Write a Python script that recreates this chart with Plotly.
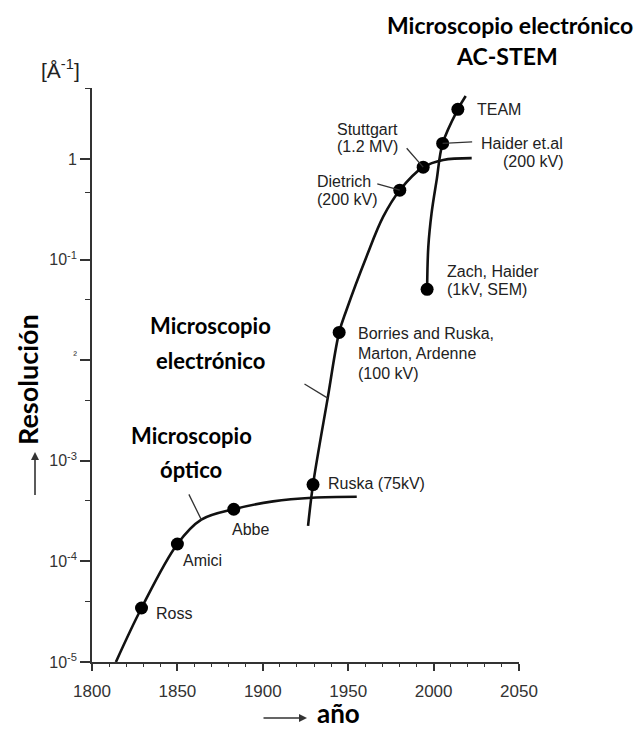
import numpy as np
import plotly.graph_objects as go

# ---------------- data ----------------
optical_year = [1814, 1829, 1850, 1864, 1883, 1906, 1929, 1955]
optical_res = [1.0e-5, 3.44e-5, 1.49e-4, 2.6e-4, 3.3e-4, 3.95e-4, 4.3e-4, 4.4e-4]

electron_year = [1926.5, 1929.4, 1938, 1944.7, 1949, 1960.7, 1970.5, 1980.2, 1993.9, 2005.6, 2022.3]
electron_res = [2.25e-4, 5.8e-4, 4.2e-3, 1.89e-2, 3.16e-2, 0.107, 0.267, 0.49, 0.83, 0.98, 1.02]

acstem_year = [1996.2, 1996.9, 1998.8, 2001.8, 2005.3, 2014.2, 2018.8]
acstem_res = [0.0507, 0.134, 0.288, 0.62, 1.43, 3.12, 4.23]

milestone_key = ["Ross", "Amici", "Abbe", "Ruska", "Borries", "Dietrich", "Stuttgart", "Haider", "TEAM", "Zach"]
milestone_year = [1829, 1850, 1883, 1929.4, 1944.7, 1980.2, 1993.9, 2005.3, 2014.2, 1996.2]
milestone_res = [3.44e-5, 1.49e-4, 3.3e-4, 5.8e-4, 1.89e-2, 0.49, 0.83, 1.43, 3.12, 0.0507]

milestone_text = {
    "Ross": ["Ross"],
    "Amici": ["Amici"],
    "Abbe": ["Abbe"],
    "Ruska": ["Ruska (75kV)"],
    "Borries": ["Borries and Ruska,", "Marton, Ardenne", "(100 kV)"],
    "Dietrich": ["Dietrich", "(200 kV)"],
    "Stuttgart": ["Stuttgart", "(1.2 MV)"],
    "Haider": ["Haider et.al", "(200 kV)"],
    "TEAM": ["TEAM"],
    "Zach": ["Zach, Haider", "(1kV, SEM)"],
}

x_ticks = [1800, 1850, 1900, 1950, 2000, 2050]
y_ticks = [1e-5, 1e-4, 1e-3, 1e-2, 1e-1, 1]
y_ticktext = ["10<sup>-5</sup>", "10<sup>-4</sup>", "10<sup>-3</sup>",
              "<sup>\u00b2</sup>", "10<sup>-1</sup>", "1"]
y_minor = [4e-5, 4e-4, 4e-3, 4e-2, 0.47, 5]

# ---------------- layout geometry (styles) ----------------
W, H = 637, 730
ML, MR, MT, MB = 92, 118, 88, 68
PW, PH = W - ML - MR, H - MT - MB
YR = [-5, 0.706]

def px(xp, yp):
    return (xp - ML) / PW, (H - MB - yp) / PH

label_style = {  # key: (anchor, dx, dy_first, spacing)
    "Ross": ("left", 12, 5, 0),
    "Amici": ("left", 4, 17, 0),
    "Abbe": ("left", -4, 20, 0),
    "Ruska": ("left", 13, -1.5, 0),
    "Borries": ("left", 17, 1, 20),
    "Dietrich": ("left", -85, -8.5, 18.3),
    "Stuttgart": ("left", -88, -37.5, 17),
    "Haider": ("right", 122, 0, 18.4),
    "TEAM": ("left", 17, 0, 0),
    "Zach": ("left", 18, -17.6, 18.3),
}

INK = "#111111"
TXT = "#222222"
fig = go.Figure()

for xs, ys in [(optical_year, optical_res), (electron_year, electron_res), (acstem_year, acstem_res)]:
    fig.add_trace(go.Scatter(x=xs, y=ys, mode="lines",
                             line=dict(color=INK, width=2.6, shape="spline", smoothing=1.0),
                             hoverinfo="skip", showlegend=False))

fig.add_trace(go.Scatter(x=milestone_year, y=milestone_res, mode="markers",
                         marker=dict(color="#000000", size=13), showlegend=False,
                         text=milestone_key))

ann = []
lab_font = dict(family="Liberation Sans, Arial, sans-serif", size=16, color=TXT)
for k, xv, yv in zip(milestone_key, milestone_year, milestone_res):
    anchor, dx, dy, sp = label_style[k]
    for i, line in enumerate(milestone_text[k]):
        ann.append(dict(x=xv, y=np.log10(yv), xref="x", yref="y", text=line,
                        showarrow=False, xanchor=anchor, yanchor="middle",
                        xshift=dx, yshift=-(dy + i * sp), font=lab_font))

# leader lines
def leader(xv, yv, ax, ay):
    return dict(x=xv, y=np.log10(yv), xref="x", yref="y", text=" ", showarrow=True,
                arrowhead=0, arrowwidth=1.3, arrowcolor="#333333", ax=ax, ay=ay,
                standoff=0, font=dict(size=1))

i_d = milestone_key.index("Dietrich")
i_s = milestone_key.index("Stuttgart")
i_h = milestone_key.index("Haider")
ann.append(leader(milestone_year[i_d], milestone_res[i_d], -24, -6.7))
ann.append(leader(milestone_year[i_s], milestone_res[i_s], -18, -20.6))
ann.append(leader(milestone_year[i_h], milestone_res[i_h], 31, -1.6))
ann.append(leader(optical_year[3], optical_res[3], -13.4, -27.3))
ann.append(leader(electron_year[2], electron_res[2], -24.7, -15))

bold = "Lato, 'Open Sans', sans-serif"
def txt(t, xp, yp, size, angle=0, yanchor="middle"):
    x, y = px(xp, yp)
    return dict(x=x, y=y, xref="paper", yref="paper", text="<b>" + t + "</b>", showarrow=False,
                xanchor="center", yanchor=yanchor, textangle=angle, borderpad=0,
                font=dict(family=bold, size=size, color="#000000"))

ann += [
    txt("Microscopio electrónico", 510, 25, 23),
    txt("AC-STEM", 507, 56, 23),
    txt("Microscopio", 210, 325, 22),
    txt("electrónico", 210, 360, 22),
    txt("Microscopio", 191, 435, 22),
    txt("óptico", 191, 469, 22),
    txt("Resolución", 27, 380, 27, -90),
    txt("año", 338, 730, 26, yanchor="bottom"),
]

# unit label
ux, uy = px(60, 69)
ann.append(dict(x=ux, y=uy, xref="paper", yref="paper", text="[Å<sup>-1</sup>]", showarrow=False,
                xanchor="center", yanchor="middle",
                font=dict(family="Liberation Sans, Arial", size=21, color="#222222")))

# axis arrows
def arrow(hx, hy, ax, ay):
    x, y = px(hx, hy)
    return dict(x=x, y=y, xref="paper", yref="paper", text=" ", showarrow=True, arrowhead=2,
                arrowsize=1, arrowwidth=1.6, arrowcolor="#333333", ax=ax, ay=ay,
                standoff=0, font=dict(size=1))
ann.append(arrow(35, 452, 0, 45))
ann.append(arrow(307, 718, -45, 0))

axis_line = dict(showline=True, linecolor="#333333", linewidth=1.6, showgrid=False,
                 zeroline=False, ticks="outside", tickcolor="#333333", tickwidth=1.5)

fig.update_layout(
    width=W, height=H, margin=dict(l=ML, r=MR, t=MT, b=MB),
    paper_bgcolor="white", plot_bgcolor="white", showlegend=False,
    annotations=ann,
    xaxis=dict(range=[1800, 2050], tickvals=x_ticks, ticklen=7,
               tickfont=dict(family="Liberation Sans, Arial", size=17, color="#333333"),
               ticklabelstandoff=6,
               minor=dict(dtick=10, tick0=1800, ticks="outside", ticklen=3.5,
                          tickcolor="#333333", tickwidth=1.3),
               **axis_line),
    yaxis=dict(type="log", range=YR, tickvals=y_ticks, ticktext=y_ticktext, ticklen=10,
               tickfont=dict(family="Liberation Sans, Arial", size=16, color="#333333"),
               minor=dict(tickvals=y_minor, ticks="outside", ticklen=5,
                          tickcolor="#333333", tickwidth=1.3),
               **axis_line),
)

fig.write_html("out.html", config={"displayModeBar": False},
               post_script="document.body.style.margin='0';document.body.style.overflow='hidden';")
